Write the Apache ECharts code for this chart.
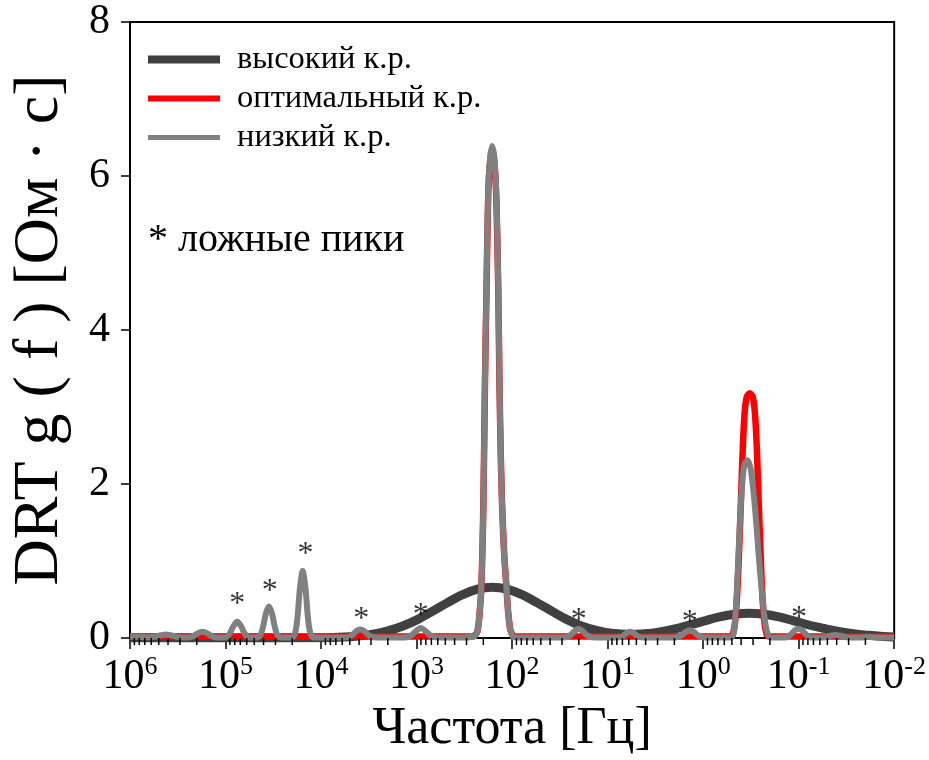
<!DOCTYPE html>
<html><head><meta charset="utf-8">
<script src="https://cdn.jsdelivr.net/npm/echarts@6/dist/echarts.min.js"></script>
<style>html,body{margin:0;padding:0;background:#fff}#c{width:929px;height:760px}</style>
</head><body><div id="c"></div>
<script>
// ---- data (x stored as log10 of frequency in Hz, y = g(f) in Ohm*s) ----
const seriesNames = ['высокий к.р.', 'оптимальный к.р.', 'низкий к.р.'];

const highLgF = [6.000, 3.922, 3.766, 3.610, 3.455, 3.299, 3.143, 2.987, 2.831, 2.675, 2.519, 2.364, 2.208, 2.052, 1.896, 1.740, 1.584, 1.429, 1.273, 1.117, 0.961,
  0.764, 0.608, 0.452, 0.296, 0.140, -0.016, -0.171, -0.327, -0.483, -0.639, -0.795, -0.951, -1.106, -1.262, -1.418, -1.574, -1.730, -1.886, -2.000];
const highG   = [0, 0.003, 0.012, 0.026, 0.051, 0.093, 0.156, 0.242, 0.348, 0.46, 0.562, 0.634, 0.66, 0.634, 0.562, 0.46, 0.348, 0.242, 0.156, 0.098, 0.061,
  0.046, 0.055, 0.080, 0.117, 0.169, 0.223, 0.273, 0.308, 0.32, 0.308, 0.273, 0.223, 0.169, 0.125, 0.085, 0.055, 0.035, 0.02, 0.012];

const optLgF = [6.000, 2.416, 2.395, 2.364, 2.343, 2.322, 2.301, 2.284, 2.270, 2.249, 2.229, 2.208, 2.187, 2.166, 2.145, 2.132, 2.119, 2.104, 2.083, 2.059, 2.042, 2.021, 2.000, 1.979,
  -0.296, -0.312, -0.332, -0.353, -0.374, -0.395, -0.416, -0.436, -0.457, -0.488, -0.519, -0.540, -0.561, -0.582, -0.603, -0.623, -0.644, -0.665, -0.681, -2.000];
const optG   = [0.02, 0.02, 0.03, 0.08, 0.28, 0.66, 1.71, 3.3, 4.35, 5.8, 6.2, 6.34, 6.2, 5.75, 4.55, 3.3, 2.4, 1.71, 1.1, 0.66, 0.35, 0.12, 0.05, 0.02,
  0.02, 0.05, 0.18, 0.5, 1.05, 1.75, 2.5, 2.95, 3.13, 3.18, 3.13, 2.95, 2.5, 1.75, 1.05, 0.5, 0.18, 0.05, 0.02, 0.02];

const lowLgF = [6.000, 5.803, 5.730, 5.678, 5.626, 5.574, 5.512, 5.418, 5.345, 5.294, 5.242, 5.190, 5.138, 5.086,
  4.992, 4.951, 4.919, 4.878, 4.836, 4.805, 4.764, 4.691, 4.639, 4.608, 4.577, 4.545, 4.514, 4.483, 4.452, 4.390,
  4.296, 4.265, 4.244, 4.223, 4.192, 4.161, 4.140, 4.119, 4.088, 3.984, 3.725, 3.673, 3.631, 3.590, 3.548, 3.506, 3.455,
  3.257, 3.101, 3.049, 2.997, 2.956, 2.914, 2.862, 2.810, 2.582,
  2.395, 2.364, 2.343, 2.322, 2.301, 2.284, 2.270, 2.249, 2.229, 2.208, 2.187, 2.166, 2.145, 2.132, 2.119, 2.104, 2.083, 2.059, 2.042, 2.021, 2.000, 1.979,
  1.699, 1.439, 1.387, 1.345, 1.304, 1.262, 1.221, 1.169, 0.919, 0.847, 0.805, 0.764, 0.722, 0.681, 0.608,
  0.296, 0.234, 0.182, 0.140, 0.099, 0.047, -0.016, -0.255,
  -0.306, -0.327, -0.348, -0.369, -0.390, -0.410, -0.431, -0.462, -0.494, -0.514, -0.535, -0.556, -0.577, -0.597, -0.618, -0.639, -0.660, -0.681, -0.701,
  -0.795, -0.878, -0.919, -0.961, -0.992, -1.034, -1.075, -1.117, -1.210, -1.283, -1.335, -1.387, -1.439, -1.501, -1.626, -1.730, -1.834, -2.000];
const lowG = [0.02, 0.01, 0.02, 0.035, 0.045, 0.035, 0.015, 0.005, 0.02, 0.06, 0.08, 0.06, 0.02, 0.005,
  0.01, 0.07, 0.15, 0.21, 0.15, 0.07, 0.01, 0.005, 0.03, 0.14, 0.32, 0.41, 0.32, 0.14, 0.03, 0.005,
  0.01, 0.1, 0.3, 0.62, 0.87, 0.62, 0.3, 0.1, 0.01, 0.005, 0.01, 0.04, 0.09, 0.11, 0.09, 0.04, 0.01,
  0.005, 0.01, 0.04, 0.10, 0.13, 0.10, 0.04, 0.01, 0.005,
  0.02, 0.08, 0.28, 0.66, 1.71, 3.35, 4.4, 5.85, 6.25, 6.39, 6.25, 5.8, 4.6, 3.35, 2.4, 1.71, 1.1, 0.66, 0.35, 0.12, 0.04, 0.01,
  0.005, 0.01, 0.04, 0.09, 0.12, 0.09, 0.04, 0.01, 0.005, 0.02, 0.06, 0.08, 0.06, 0.02, 0.005,
  0.005, 0.03, 0.08, 0.10, 0.08, 0.03, 0.005, 0.005,
  0.02, 0.12, 0.5, 1.05, 1.62, 2.02, 2.24, 2.31, 2.22, 2.05, 1.8, 1.5, 1.15, 0.85, 0.55, 0.3, 0.13, 0.04, 0.01,
  0.005, 0.01, 0.05, 0.10, 0.12, 0.10, 0.05, 0.01, 0.005, 0.01, 0.03, 0.04, 0.03, 0.01, 0.005, 0.015, 0.005, 0.005];

// false-peak markers
const starLgF = [4.878, 4.538, 4.164, 3.580, 2.956, 1.301, 0.140, -1.003];
const starG   = [0.506, 0.679, 1.165, 0.312, 0.364, 0.308, 0.277, 0.329];

// axis ticks
const xMin = 0.01, xMax = 1e6;
const yTicks = [0, 2, 4, 6, 8];
const minorTickValues = [];
for (let e = -2; e < 6; e++) for (let k = 2; k <= 9; k++) minorTickValues.push(k * Math.pow(10, e));

const FONT = "'Liberation Serif', 'Times New Roman', serif";
const toPairs = (lg, g) => lg.map((v, i) => [Math.pow(10, v), g[i]]);
const noteText = {id: 'note', type: 'text', left: 148, top: 220,
  style: {text: '* ложные пики', font: '40px ' + FONT, fill: '#000'}};

const chart = echarts.init(document.getElementById('c'), null, {renderer: 'canvas'});
chart.setOption({
  animation: false,
  backgroundColor: '#fff',
  grid: {left: 126, right: 33, top: 22, bottom: 122, show: true, borderColor: '#000', borderWidth: 2, backgroundColor: 'transparent'},
  legend: {
    orient: 'vertical', left: 148, top: 43, padding: 0, itemWidth: 72, itemHeight: 14, itemGap: 6,
    textStyle: {fontSize: 32.5, fontFamily: FONT, color: '#000', padding: [0, 0, 0, 12]},
    data: [
      {name: seriesNames[0], icon: 'path://M0,0H72V8H0Z'},
      {name: seriesNames[1], icon: 'path://M0,0H72V6H0Z'},
      {name: seriesNames[2], icon: 'path://M0,0H72V5H0Z'}
    ]
  },
  graphic: [noteText],
  xAxis: {
    type: 'log', logBase: 10, min: xMin, max: xMax, inverse: true, interval: 1,
    name: 'Частота [Гц]', nameLocation: 'middle', nameGap: 60,
    nameTextStyle: {fontSize: 52, fontFamily: FONT, color: '#000'},
    axisLine: {show: true, onZero: false, lineStyle: {color: '#000', width: 2}},
    axisTick: {show: true, inside: false, length: 11, lineStyle: {color: '#000', width: 1.5}},
    splitLine: {show: false}, minorTick: {show: false},
    axisLabel: {
      margin: 16, color: '#000',
      formatter: v => '{b|10}{s|' + Math.round(Math.log10(v)) + '}',
      rich: {
        b: {fontSize: 42, fontFamily: FONT, color: '#000', lineHeight: 46},
        s: {fontSize: 26, fontFamily: FONT, color: '#000', lineHeight: 26, verticalAlign: 'top'}
      }
    }
  },
  yAxis: {
    type: 'value', min: 0, max: 8, interval: 2,
    name: 'DRT g ( f ) [Ом · с]', nameLocation: 'middle', nameGap: 58,
    nameTextStyle: {fontSize: 64, fontFamily: FONT, color: '#000'},
    axisLine: {show: true, onZero: false, lineStyle: {color: '#000', width: 2}},
    axisTick: {show: true, inside: false, length: 9, lineStyle: {color: '#000', width: 1.5}},
    splitLine: {show: false},
    axisLabel: {margin: 20, fontSize: 42, fontFamily: FONT, color: '#000', customValues: yTicks}
  },
  series: [
    {name: seriesNames[0], type: 'line', data: toPairs(highLgF, highG), showSymbol: false, symbol: 'none', smooth: 0.4,
      color: '#404040', lineStyle: {color: '#404040', width: 9}, z: 2},
    {name: seriesNames[1], type: 'line', data: toPairs(optLgF, optG), showSymbol: false, symbol: 'none', smooth: 0.3,
      color: '#ff0000', lineStyle: {color: '#ff0000', width: 6.5}, z: 3},
    {name: seriesNames[2], type: 'line', data: toPairs(lowLgF, lowG), showSymbol: false, symbol: 'none', smooth: 0.3,
      color: '#808080', lineStyle: {color: '#808080', width: 6}, z: 4},
    {name: 'stars', type: 'scatter', data: toPairs(starLgF, starG), symbolSize: 1, itemStyle: {color: 'rgba(0,0,0,0)'}, z: 5, silent: true,
      label: {show: true, position: 'inside', formatter: '*', fontSize: 32, fontFamily: FONT, color: '#000', offset: [0, 6]}}
  ]
});

// minor ticks of the log axis (2..9 in every decade), positioned through the axis scale
const y0 = chart.convertToPixel({yAxisIndex: 0}, 0);
const tickLines = minorTickValues.map((v, i) => {
  const x = chart.convertToPixel({xAxisIndex: 0}, v);
  return {id: 'mt' + i, type: 'line', silent: true, z: 100,
    shape: {x1: x, y1: y0, x2: x, y2: y0 + 7}, style: {stroke: '#000', lineWidth: 1.5}};
});
chart.setOption({graphic: [noteText].concat(tickLines)});
</script>
</body></html>
